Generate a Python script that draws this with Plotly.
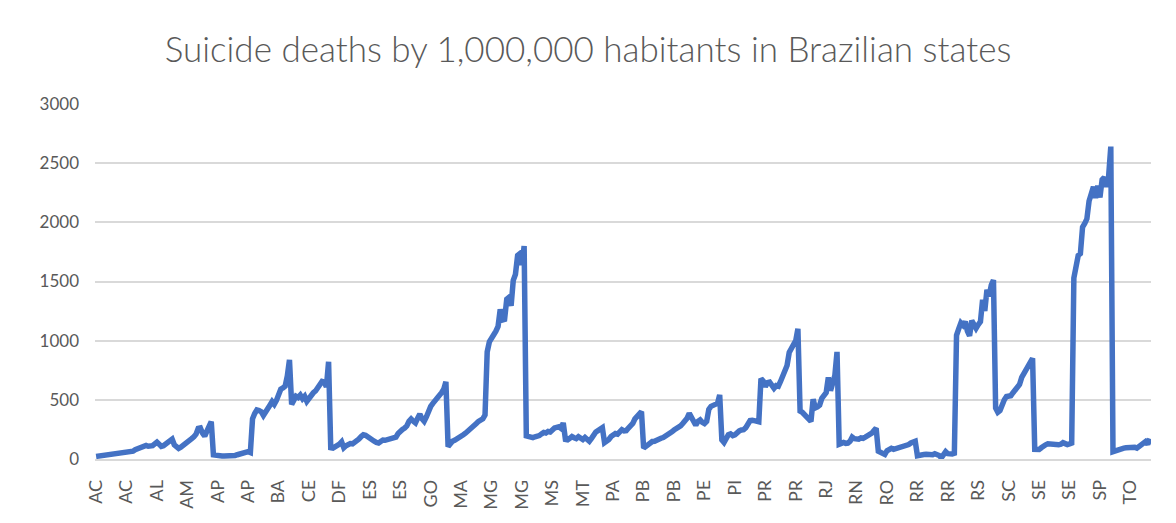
import plotly.graph_objects as go

# Annual suicide deaths per state (18 yearly values per state, alphabetical order)
AC = [22, 24, 27, 29, 31, 33, 35, 36, 40, 42, 44, 43, 48, 53, 58, 56, 62, 66]
AL = [79, 85, 92, 99, 107, 115, 108, 106, 113, 128, 142, 125, 106, 112, 124, 136, 150, 168]
AM = [120, 100, 90, 100, 112, 128, 145, 158, 172, 188, 210, 258, 262, 218, 192, 235, 272, 316]
AP = [35, 30, 28, 27, 26, 25, 24, 26, 28, 27, 30, 36, 42, 48, 50, 58, 62, 55]
BA = [340, 385, 415, 410, 400, 368, 405, 425, 455, 485, 462, 495, 545, 590, 600, 615, 700, 838]
CE = [462, 505, 530, 520, 540, 510, 530, 488, 515, 548, 560, 575, 600, 640, 655, 650, 610, 822]
DF = [95, 92, 100, 110, 125, 145, 95, 112, 125, 130, 128, 140, 155, 170, 190, 205, 200, 185]
ES = [180, 160, 150, 140, 135, 148, 160, 158, 165, 170, 180, 190, 185, 215, 240, 250, 262, 280]
GO = [318, 338, 320, 305, 345, 380, 340, 318, 355, 410, 445, 470, 490, 505, 540, 560, 590, 652]
MA = [105, 130, 150, 158, 168, 172, 190, 205, 218, 232, 250, 262, 280, 300, 318, 328, 340, 372]
MG = [905, 990, 1030, 1050, 1080, 1120, 1265, 1175, 1180, 1350, 1365, 1295, 1510, 1560, 1720, 1735, 1640, 1800]
MS = [195, 190, 185, 180, 188, 192, 198, 212, 225, 220, 232, 228, 250, 262, 268, 272, 258, 305]
MT = [165, 162, 175, 190, 180, 172, 188, 178, 165, 182, 160, 150, 175, 205, 228, 240, 258, 265]
PA = [138, 150, 165, 190, 200, 215, 210, 225, 248, 238, 240, 262, 280, 300, 340, 362, 390, 400]
PB = [92, 110, 125, 140, 148, 150, 162, 170, 175, 182, 192, 200, 215, 230, 245, 255, 262, 280]
PE = [300, 322, 345, 385, 345, 300, 285, 318, 330, 310, 300, 318, 420, 445, 450, 455, 470, 542]
PI = [162, 140, 180, 205, 212, 198, 205, 225, 238, 245, 248, 265, 300, 325, 328, 325, 320, 315]
PR = [680, 660, 612, 645, 650, 630, 598, 620, 615, 655, 700, 770, 790, 900, 935, 950, 1000, 1100]
RJ = [405, 395, 372, 350, 330, 318, 505, 432, 440, 455, 512, 540, 560, 690, 578, 640, 705, 905]
RN = [125, 132, 140, 132, 135, 150, 185, 172, 165, 168, 178, 175, 185, 192, 205, 218, 240, 260]
RO = [65, 58, 48, 38, 70, 85, 90, 82, 88, 92, 95, 98, 108, 115, 122, 135, 145, 150]
RR = [28, 35, 42, 38, 40, 35, 38, 36, 45, 40, 30, 10, 38, 62, 45, 38, 42, 48]
RS = [1045, 1100, 1150, 1130, 1160, 1080, 1040, 1170, 1130, 1105, 1135, 1160, 1345, 1250, 1430, 1375, 1470, 1512]
SC = [430, 395, 410, 465, 500, 528, 530, 535, 560, 585, 600, 630, 690, 725, 745, 770, 810, 850]
SE = [82, 78, 80, 95, 112, 120, 128, 125, 120, 118, 122, 120, 125, 138, 130, 122, 128, 135]
SP = [1530, 1650, 1720, 1735, 1960, 1990, 2030, 2180, 2240, 2300, 2205, 2310, 2210, 2360, 2380, 2300, 2390, 2640]
TO = [62, 70, 78, 82, 88, 92, 95, 98, 100, 105, 100, 92, 108, 115, 128, 148, 125, 172]

states = ["AC", "AL", "AM", "AP", "BA", "CE", "DF", "ES", "GO", "MA", "MG", "MS", "MT", "PA",
          "PB", "PE", "PI", "PR", "RJ", "RN", "RO", "RR", "RS", "SC", "SE", "SP", "TO"]
series = [AC, AL, AM, AP, BA, CE, DF, ES, GO, MA, MG, MS, MT, PA,
          PB, PE, PI, PR, RJ, RN, RO, RR, RS, SC, SE, SP, TO]

y_ticks = [0, 500, 1000, 1500, 2000, 2500, 3000]

# One row per state-year, in table order
row_state = []
values = []
for st, vals in zip(states, series):
    row_state.extend([st] * len(vals))
    values.extend(vals)
rows = list(range(len(values)))

# Category labels shown on every 14th row
label_step = 14
tick_rows = rows[::label_step]
tick_text = [row_state[i] for i in tick_rows]

font_family = "Lato, 'Open Sans', sans-serif"
text_grey = "#595959"

fig = go.Figure(
    go.Scatter(
        x=rows,
        y=values,
        mode="lines",
        line=dict(color="#4472C4", width=5.5),
        hoverinfo="y",
    )
)

fig.update_layout(
    width=1176,
    height=523,
    paper_bgcolor="white",
    plot_bgcolor="white",
    margin=dict(l=95, r=25, t=104, b=64),
    showlegend=False,
    font=dict(family=font_family, color=text_grey),
    title=dict(
        text="Suicide deaths by 1,000,000 habitants in Brazilian states",
        x=0.5,
        xanchor="center",
        y=1 - 50 / 523,
        yanchor="middle",
        yref="container",
        font=dict(family=font_family, size=35, color=text_grey, weight=300),
    ),
)

fig.update_xaxes(
    range=[-0.5, len(values) - 0.5],
    tickmode="array",
    tickvals=tick_rows,
    ticktext=tick_text,
    tickangle=-90,
    tickfont=dict(size=18, color=text_grey),
    showgrid=False,
    zeroline=False,
    showline=True,
    linecolor="#d9d9d9",
    linewidth=1.5,
    ticks="",
    ticklabelstandoff=12,
)

fig.update_yaxes(
    range=[0, 3000],
    tickmode="array",
    tickvals=y_ticks,
    ticktext=[str(v) for v in y_ticks],
    tickfont=dict(size=17, color=text_grey),
    showgrid=True,
    gridcolor="#d9d9d9",
    gridwidth=1.5,
    zeroline=False,
    showline=False,
    ticks="",
    ticklabelstandoff=15,
)

fig.write_html("out.html")
